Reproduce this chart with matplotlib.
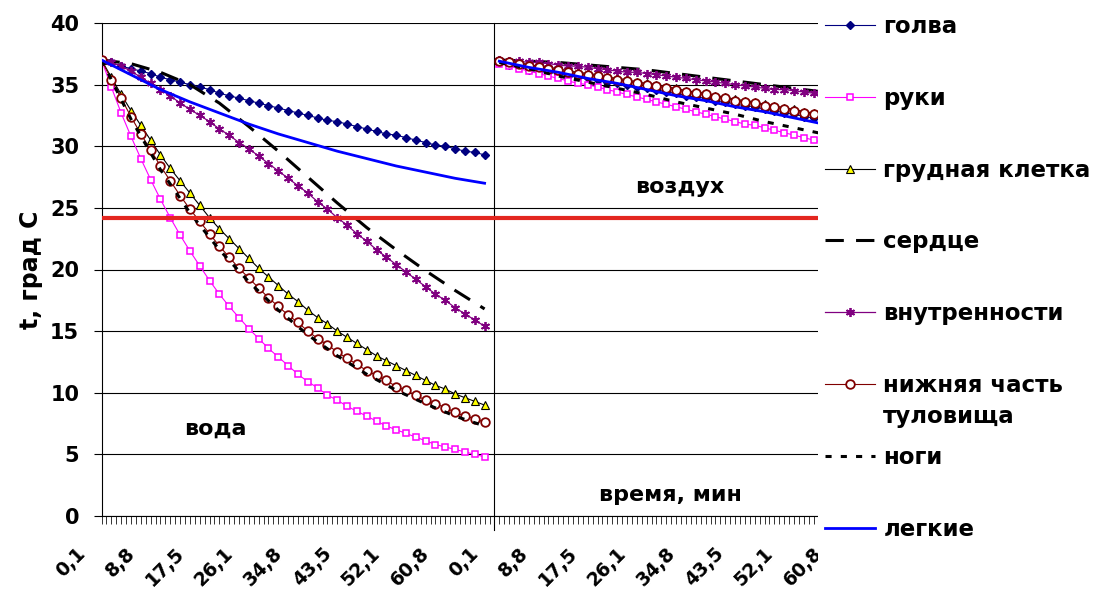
import matplotlib
matplotlib.use("Agg")
import matplotlib.pyplot as plt
import matplotlib.transforms as mtransforms
from matplotlib.patches import Rectangle

plt.rcParams['font.family'] = ['DejaVu Sans']
plt.rcParams['font.weight'] = 'bold'

# category positions: 10 categories between labelled ticks, water then air
water_x = list(range(0, 79, 2))
water_x_sparse = list(range(0, 79, 6))
air_x = list(range(81, 152, 2))
air_x_sparse = list(range(81, 154, 6))

tick_pos = [0, 10, 20, 30, 40, 50, 60, 70, 80, 90, 100, 110, 120, 130, 140, 150]
water_labels = ["0,1", "8,8", "17,5", "26,1", "34,8", "43,5", "52,1", "60,8"]
air_labels = ["0,1", "8,8", "17,5", "26,1", "34,8", "43,5", "52,1", "60,8"]

# water (вода)
golova_w = [37.0, 36.8, 36.5, 36.3, 36.1, 35.9, 35.6, 35.4, 35.2, 35.0,
            34.8, 34.6, 34.3, 34.1, 33.9, 33.7, 33.5, 33.3, 33.1, 32.9,
            32.7, 32.5, 32.3, 32.1, 32.0, 31.8, 31.6, 31.4, 31.2, 31.0,
            30.9, 30.7, 30.5, 30.3, 30.1, 30.0, 29.8, 29.6, 29.5, 29.3]
ruki_w = [37.0, 34.8, 32.7, 30.8, 29.0, 27.3, 25.7, 24.2, 22.8, 21.5,
          20.3, 19.1, 18.0, 17.0, 16.1, 15.2, 14.4, 13.6, 12.9, 12.2,
          11.5, 10.9, 10.4, 9.8, 9.4, 8.9, 8.5, 8.1, 7.7, 7.3,
          7.0, 6.7, 6.4, 6.1, 5.8, 5.6, 5.4, 5.2, 5.0, 4.8]
grud_w = [37.0, 35.6, 34.2, 32.9, 31.7, 30.5, 29.3, 28.2, 27.2, 26.2,
          25.2, 24.2, 23.3, 22.5, 21.7, 20.9, 20.1, 19.4, 18.7, 18.0,
          17.4, 16.7, 16.1, 15.6, 15.0, 14.5, 14.0, 13.5, 13.0, 12.6,
          12.2, 11.8, 11.4, 11.0, 10.6, 10.3, 9.9, 9.6, 9.3, 9.0]
serdce_w = [37.0, 36.7, 36.0, 35.0, 33.5, 31.6, 29.6, 27.5, 25.4, 23.4,
            21.6, 19.9, 18.3, 16.8]
vnutr_w = [37.0, 36.8, 36.5, 36.1, 35.6, 35.1, 34.6, 34.1, 33.5, 33.0,
           32.5, 32.0, 31.4, 30.9, 30.3, 29.8, 29.2, 28.6, 28.0, 27.4,
           26.8, 26.2, 25.5, 24.9, 24.2, 23.6, 22.9, 22.3, 21.6, 21.0,
           20.4, 19.8, 19.2, 18.6, 18.0, 17.5, 16.9, 16.4, 15.9, 15.4]
niz_w = [37.0, 35.4, 33.9, 32.4, 31.0, 29.7, 28.4, 27.2, 26.0, 24.9,
         23.9, 22.9, 21.9, 21.0, 20.1, 19.3, 18.5, 17.7, 17.0, 16.3,
         15.7, 15.0, 14.4, 13.9, 13.3, 12.8, 12.3, 11.8, 11.4, 11.0,
         10.5, 10.2, 9.8, 9.4, 9.1, 8.8, 8.4, 8.1, 7.9, 7.6]
nogi_w = [37.0, 32.2, 28.1, 24.6, 21.6, 19.0, 16.7, 14.7, 13.0, 11.5,
          10.2, 9.1, 8.1, 7.3]
legkie_w = [37.0, 35.8, 34.6, 33.6, 32.7, 31.8, 31.0, 30.3, 29.6, 29.0,
            28.4, 27.9, 27.4, 27.0]

# air (воздух)
golova_a = [36.8, 36.6, 36.4, 36.2, 36.1, 36.0, 35.9, 35.7, 35.6, 35.5,
            35.4, 35.2, 35.1, 35.0, 34.8, 34.7, 34.6, 34.4, 34.3, 34.1,
            34.0, 33.9, 33.7, 33.6, 33.4, 33.3, 33.2, 33.0, 32.9, 32.7,
            32.6, 32.4, 32.3, 32.1, 32.0, 31.8]
ruki_a = [36.7, 36.5, 36.3, 36.1, 35.9, 35.7, 35.5, 35.3, 35.1, 35.0,
          34.8, 34.6, 34.4, 34.2, 34.0, 33.8, 33.6, 33.4, 33.2, 33.0,
          32.8, 32.6, 32.4, 32.2, 32.0, 31.8, 31.7, 31.5, 31.3, 31.1,
          30.9, 30.7, 30.5, 30.3, 30.1, 29.9]
grud_a = [37.0, 36.9, 36.8, 36.6, 36.5, 36.4, 36.3, 36.1, 36.0, 35.9,
          35.8, 35.6, 35.5, 35.4, 35.2, 35.1, 35.0, 34.8, 34.7, 34.5,
          34.4, 34.3, 34.1, 34.0, 33.8, 33.7, 33.6, 33.4, 33.3, 33.1,
          33.0, 32.8, 32.7, 32.5, 32.4, 32.2]
serdce_a = [37.0, 36.9, 36.8, 36.6, 36.4, 36.2, 35.9, 35.6, 35.3, 35.0,
            34.7, 34.4, 34.1]
vnutr_a = [37.0, 36.9, 36.9, 36.8, 36.8, 36.7, 36.6, 36.5, 36.5, 36.4,
           36.3, 36.2, 36.1, 36.0, 36.0, 35.9, 35.8, 35.7, 35.6, 35.5,
           35.4, 35.3, 35.2, 35.1, 35.0, 34.9, 34.8, 34.7, 34.6, 34.6,
           34.5, 34.4, 34.3, 34.2, 34.1, 34.0]
niz_a = [36.9, 36.8, 36.7, 36.5, 36.4, 36.3, 36.2, 36.0, 35.9, 35.8,
         35.7, 35.5, 35.4, 35.3, 35.1, 35.0, 34.9, 34.7, 34.6, 34.4,
         34.3, 34.2, 34.0, 33.9, 33.7, 33.6, 33.5, 33.3, 33.2, 33.0,
         32.9, 32.7, 32.6, 32.4, 32.3, 32.1]
nogi_a = [36.8, 36.3, 35.7, 35.2, 34.7, 34.2, 33.6, 33.1, 32.6, 32.0,
          31.5, 31.0, 30.5]
legkie_a = [36.9, 36.4, 36.0, 35.5, 35.1, 34.6, 34.1, 33.7, 33.2, 32.8,
            32.3, 31.8, 31.4]

water_temp = 24.2

fig = plt.figure(figsize=(10.95, 5.94), dpi=100)
ax = fig.add_axes([101.5 / 1095, 78 / 594, 748.5 / 1095, 493 / 594])

styles = [
    dict(color="#000080", lw=0.8, marker="D", ms=4.4, mfc="#000080", mec="#000080"),
    dict(color="#ff00ff", lw=0.8, marker="s", ms=4.6, mfc="white", mec="#ff00ff", mew=1.1),
    dict(color="black", lw=0.8, marker="^", ms=5.4, mfc="#ffff00", mec="black", mew=0.8),
    dict(color="black", lw=2.2, dashes=(6, 4)),
    dict(color="#800080", lw=0.9, marker=(6, 2, 0), ms=6.5, mec="#800080", mew=1.3),
    dict(color="#800000", lw=0.8, marker="o", ms=6.2, mfc="white", mec="#800000", mew=1.3),
    dict(color="black", lw=2.2, dashes=(2, 3)),
    dict(color="#0000ff", lw=2.0),
]
labels = ["голва", "руки", "грудная клетка", "сердце", "внутренности",
          "нижняя часть", "ноги", "легкие"]
series = [
    (water_x, golova_w, air_x, golova_a),
    (water_x, ruki_w, air_x, ruki_a),
    (water_x, grud_w, air_x, grud_a),
    (water_x_sparse, serdce_w, air_x_sparse, serdce_a),
    (water_x, vnutr_w, air_x, vnutr_a),
    (water_x, niz_w, air_x, niz_a),
    (water_x_sparse, nogi_w, air_x_sparse, nogi_a),
    (water_x_sparse, legkie_w, air_x_sparse, legkie_a),
]

handles = []
for k, (xw, yw, xa, ya) in enumerate(series):
    h, = ax.plot(xw, yw, zorder=3 + k * 0.1, **styles[k])
    ax.plot(xa, ya, zorder=3 + k * 0.1, **styles[k])
    handles.append(h)

ax.axhline(water_temp, color="#e3261f", lw=3.0, zorder=4)
ax.axvline(80, ymin=-0.028, ymax=1, color="black", lw=0.8, clip_on=False, zorder=2)

ax.set_xlim(0, 152.4)
ax.set_ylim(0, 40)
ax.set_yticks(range(0, 41, 5))
ax.yaxis.grid(True, color="black", lw=0.8)
ax.set_axisbelow(True)
for s in ["top", "right"]:
    ax.spines[s].set_visible(False)
for s in ["left", "bottom"]:
    ax.spines[s].set_linewidth(0.8)

ax.set_xticks(tick_pos)
ax.set_xticklabels(water_labels + air_labels, rotation=45, ha="right", va="top")
ax.set_xticks(range(0, 153), minor=True)
ax.tick_params(axis="x", which="both", direction="out", length=6, width=0.7, color="#333333")
ax.tick_params(axis="x", which="major", pad=14, labelsize=13.5)
ax.tick_params(axis="y", direction="out", length=6, width=0.8, pad=10, labelsize=15)
shift = mtransforms.ScaledTranslation(-12 / 100, 0, fig.dpi_scale_trans)
for lab in ax.get_xticklabels():
    lab.set_transform(lab.get_transform() + shift)

ax.set_ylabel("t, град С", fontsize=17, fontweight="bold")
ax.yaxis.set_label_coords(-0.078, 0.5)

ax.text(23.1, 7.1, "вода", ha="center", va="center", fontsize=16, fontweight="bold")
ax.text(117.8, 26.7, "воздух", ha="center", va="center", fontsize=16, fontweight="bold")
ax.text(115.8, 1.7, "время, мин", ha="center", va="center", fontsize=16, fontweight="bold")

# the legend area covers the right end of the plot
fig.add_artist(Rectangle((818 / 1095, 0), 1 - 818 / 1095, 1, transform=fig.transFigure,
                         facecolor="white", edgecolor="none", zorder=4))
fig.legend(handles, labels, loc="upper left", bbox_to_anchor=(825 / 1095, 1 - 15 / 594),
           frameon=False, fontsize=16.5, handlelength=2.2, handletextpad=0.35,
           labelspacing=2.13, borderpad=0, borderaxespad=0, numpoints=1)
fig.text(883 / 1095, 1 - 416 / 594, "туловища", ha="left", va="center",
         fontsize=16.5, fontweight="bold", zorder=6)

fig.savefig("out.png", dpi=100)
